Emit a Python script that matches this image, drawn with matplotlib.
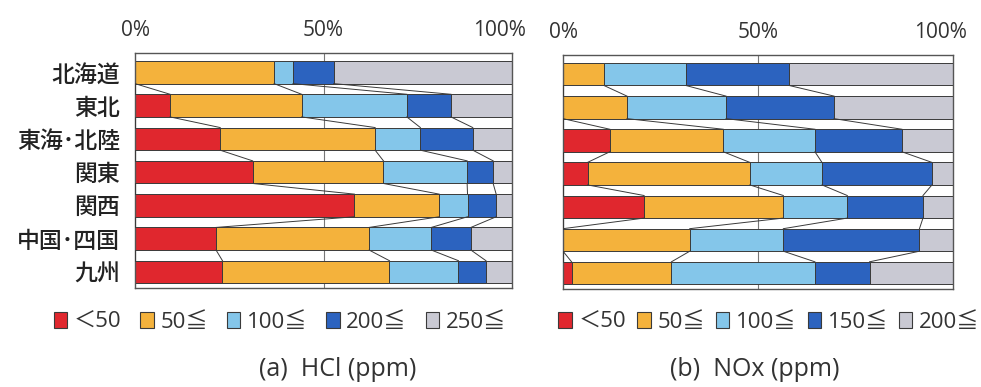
import matplotlib
matplotlib.use('Agg')
import matplotlib.pyplot as plt
from matplotlib.patches import Patch
from matplotlib.transforms import ScaledTranslation
import numpy as np

plt.rcParams['font.family'] = ['Noto Sans CJK JP', 'DejaVu Sans']

regions = ['北海道', '東北', '東海･北陸', '関東', '関西', '中国･四国', '九州']

# HCl (ppm) share per class, %
hcl_labels = ['＜50', '50≦', '100≦', '200≦', '250≦']
hcl_lt50 = [0.0, 9.3, 22.6, 31.2, 58.2, 21.5, 23.2]
hcl_50 = [36.9, 34.9, 41.1, 34.7, 22.5, 40.6, 44.3]
hcl_100 = [5.0, 27.9, 12.0, 22.2, 7.5, 16.5, 18.3]
hcl_200 = [10.8, 11.7, 13.9, 6.9, 7.6, 10.5, 7.3]
hcl_250 = [47.3, 16.2, 10.4, 5.0, 4.2, 10.9, 6.9]

# NOx (ppm) share per class, %
nox_labels = ['＜50', '50≦', '100≦', '150≦', '200≦']
nox_lt50 = [0.0, 0.0, 12.0, 6.3, 20.8, 0.0, 2.2]
nox_50 = [10.5, 16.4, 29.1, 41.6, 35.7, 32.5, 25.6]
nox_100 = [21.0, 25.4, 23.5, 18.5, 16.4, 24.0, 36.8]
nox_150 = [26.5, 27.7, 22.3, 28.2, 19.4, 34.9, 14.0]
nox_200 = [42.0, 30.5, 13.1, 5.4, 7.7, 8.6, 21.4]

colors = ['#e0272e', '#f4b23c', '#84c6ea', '#2c63bf', '#c9c9d3']
edge = '#3a3a3a'
txt = '#333333'
latin = ['Open Sans', 'Noto Sans CJK JP', 'DejaVu Sans']
bar_h = 0.68

fig = plt.figure(figsize=(9.81, 3.87), dpi=100)
W, H = 981, 387


def px_axes(x0, y0, x1, y1):
    return fig.add_axes([x0 / W, 1 - y1 / H, (x1 - x0) / W, (y1 - y0) / H])


def draw_panel(ax, series, show_labels):
    data = np.array(series)
    y = np.arange(data.shape[1])
    left = np.zeros(data.shape[1])
    for vals, c in zip(data, colors):
        ax.barh(y, vals, left=left, height=bar_h, color=c,
                edgecolor=edge, linewidth=0.7, zorder=2)
        left = left + vals
    # series lines between adjacent bars
    cum = np.vstack([np.zeros(data.shape[1]), np.cumsum(data, axis=0)])
    for k in range(0, data.shape[0]):
        for i in range(len(y) - 1):
            ax.plot([cum[k, i], cum[k, i + 1]],
                    [y[i] + bar_h / 2, y[i + 1] - bar_h / 2],
                    color=edge, linewidth=0.7, zorder=3)
    ax.axvline(50, color='#777777', linewidth=0.8, zorder=0)
    ax.set_xlim(0, 100)
    ax.set_ylim(len(y) - 0.52, -0.58)
    ax.xaxis.tick_top()
    ax.set_xticks([0, 50, 100])
    ax.set_xticklabels(['0%', '50%', '100%'], family=latin, fontsize=15, color=txt)
    ax.tick_params(axis='x', length=0, pad=9)
    # the 100% label sits a little inside the right edge
    last = ax.get_xticklabels()[-1]
    last.set_transform(last.get_transform() + ScaledTranslation(-12 / 100, 0, fig.dpi_scale_trans))
    ax.set_yticks(y)
    if show_labels:
        ax.set_yticklabels(regions, fontsize=16.5, fontweight='medium', color='#222222')
        ax.tick_params(axis='y', length=0, pad=11)
    else:
        ax.set_yticklabels([])
        ax.tick_params(axis='y', length=0)
    for s in ax.spines.values():
        s.set_color('#555555')
        s.set_linewidth(1.0)


ax1 = px_axes(135, 53, 512, 288)
draw_panel(ax1, [hcl_lt50, hcl_50, hcl_100, hcl_200, hcl_250], True)

ax2 = px_axes(563, 55, 953, 289)
draw_panel(ax2, [nox_lt50, nox_50, nox_100, nox_150, nox_200], False)

for labels, cx, gap in [(hcl_labels, 280, 0.85), (nox_labels, 769, 0.5)]:
    handles = [Patch(facecolor=c, edgecolor=edge, linewidth=0.8) for c in colors]
    fig.legend(handles, labels, loc='center', bbox_to_anchor=(cx / W, 1 - 322 / H),
               ncol=5, frameon=False, handlelength=0.6, handleheight=0.7,
               handletextpad=0.3, columnspacing=gap, borderaxespad=0,
               prop={'family': latin, 'size': 16}, labelcolor=txt)

fig.text(338 / W, 1 - 369 / H, '(a)  HCl (ppm)', ha='center', va='center',
         fontsize=18, color=txt, family=latin)
fig.text(755 / W, 1 - 369 / H, '(b)  NOx (ppm)', ha='center', va='center',
         fontsize=18, color=txt, family=latin)

fig.savefig('out.png', dpi=100)
plt.close(fig)
